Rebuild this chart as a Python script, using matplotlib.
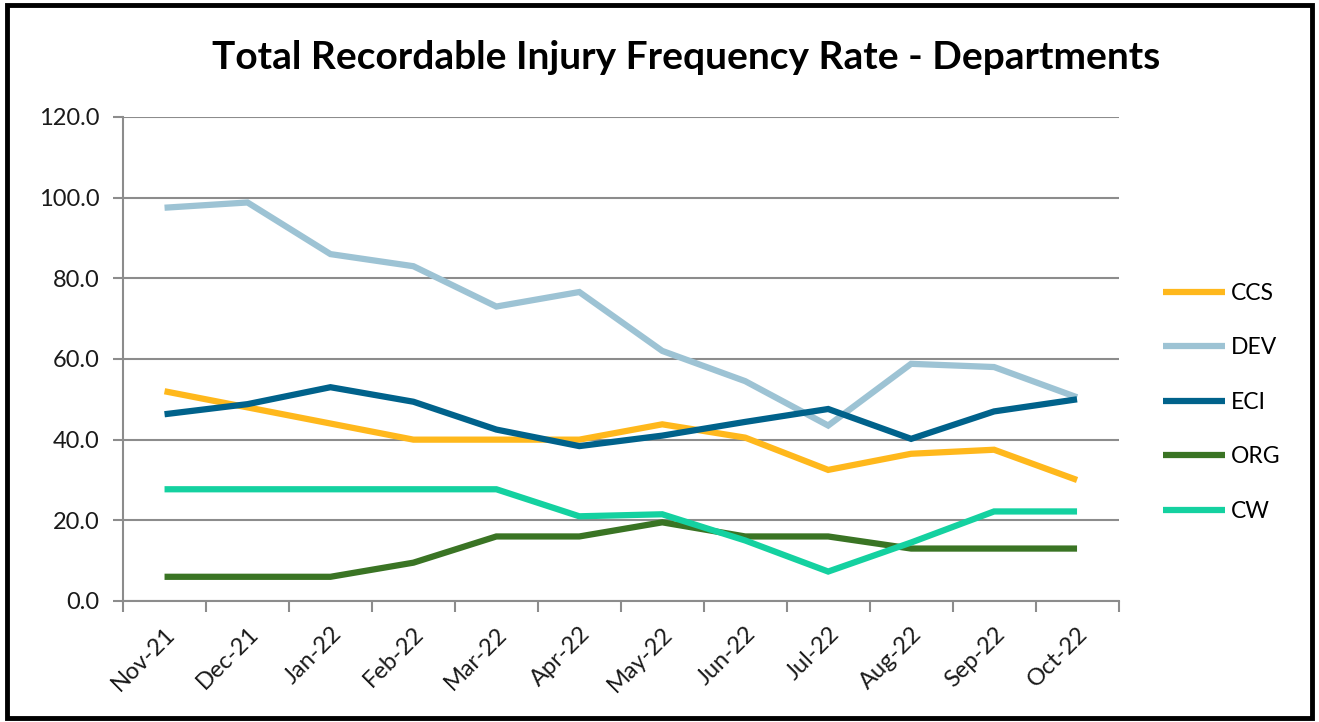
"""
Total Recordable Injury Frequency Rate by department, Nov-21 .. Oct-22.
"""

import matplotlib
matplotlib.use("Agg")
import matplotlib.pyplot as plt
from matplotlib.patches import Rectangle
import numpy as np

# ── Data ─────────────────────────────────────────────────────────────────────

MONTHS = ["Nov-21", "Dec-21", "Jan-22", "Feb-22", "Mar-22", "Apr-22",
          "May-22", "Jun-22", "Jul-22", "Aug-22", "Sep-22", "Oct-22"]

CCS = [52.0, 48.0, 44.0, 40.0, 40.0, 40.0, 43.8, 40.5, 32.5, 36.5, 37.5, 30.0]
DEV = [97.5, 98.8, 86.0, 83.0, 73.0, 76.6, 62.0, 54.5, 43.5, 58.8, 58.0, 50.5]
ECI = [46.3, 48.8, 53.0, 49.4, 42.5, 38.4, 41.0, 44.4, 47.6, 40.2, 47.0, 50.0]
ORG = [6.0, 6.0, 6.0, 9.5, 16.0, 16.0, 19.5, 16.0, 16.0, 13.0, 13.0, 13.0]
CW  = [27.7, 27.7, 27.7, 27.7, 27.7, 21.0, 21.5, 15.0, 7.3, 14.5, 22.2, 22.2]

SERIES = ["CCS", "DEV", "ECI", "ORG", "CW"]
COLORS = ["#FFB81C", "#9DC3D4", "#00628B", "#3A7424", "#14D1A0"]

Y_TICKS = [0, 20, 40, 60, 80, 100, 120]

# ── Style ────────────────────────────────────────────────────────────────────

plt.rcParams["font.family"] = ["Lato", "DejaVu Sans"]
GRID = "#8C8C8C"

# ── Plot ─────────────────────────────────────────────────────────────────────

fig = plt.figure(figsize=(13.19, 7.22), dpi=100)
ax = fig.add_axes([0.0933, 0.1676, 0.7547, 0.6704])

x = np.arange(len(MONTHS))
for name, vals, col in zip(SERIES, [CCS, DEV, ECI, ORG, CW], COLORS):
    ax.plot(x, vals, color=col, linewidth=4.5, label=name,
            solid_joinstyle="miter", solid_capstyle="butt")

ax.set_xlim(-0.5, len(MONTHS) - 0.5)
ax.set_ylim(0, 120)

ax.set_yticks(Y_TICKS)
ax.set_yticklabels([f"{v:.1f}" for v in Y_TICKS], fontsize=17, color="#1a1a1a")
ax.yaxis.grid(True, color=GRID, linewidth=1.5)
ax.set_axisbelow(True)

# labels at month centres, tick marks at bin edges
ax.set_xticks(x)
ax.set_xticklabels(MONTHS, rotation=45, ha="right", rotation_mode="anchor",
                   fontsize=17, color="#1a1a1a")
ax.set_xticks(np.arange(len(MONTHS) + 1) - 0.5, minor=True)
ax.tick_params(axis="x", which="major", length=0, pad=16)
ax.tick_params(axis="x", which="minor", length=8, width=1.5, color=GRID)
ax.tick_params(axis="y", length=7, width=1.5, color=GRID, pad=10)

for side in ["top", "right"]:
    ax.spines[side].set_visible(False)
for side in ["left", "bottom"]:
    ax.spines[side].set_color(GRID)
    ax.spines[side].set_linewidth(1.5)

fig.text(0.520, 0.921, "Total Recordable Injury Frequency Rate - Departments",
         ha="center", va="center", fontsize=28, fontweight="bold", color="black")

ax.legend(loc="upper left", bbox_to_anchor=(1163 / 1319, 1 - 283 / 722),
          bbox_transform=fig.transFigure, frameon=False, fontsize=16.5,
          handlelength=2.7, handletextpad=0.25, labelspacing=1.46, borderpad=0,
          borderaxespad=0)

# outer black frame
fig.patches.append(Rectangle((0.005, 0.005), 0.99, 0.988, transform=fig.transFigure,
                             fill=False, edgecolor="black", linewidth=3.5))

fig.savefig("out.png", dpi=100)
